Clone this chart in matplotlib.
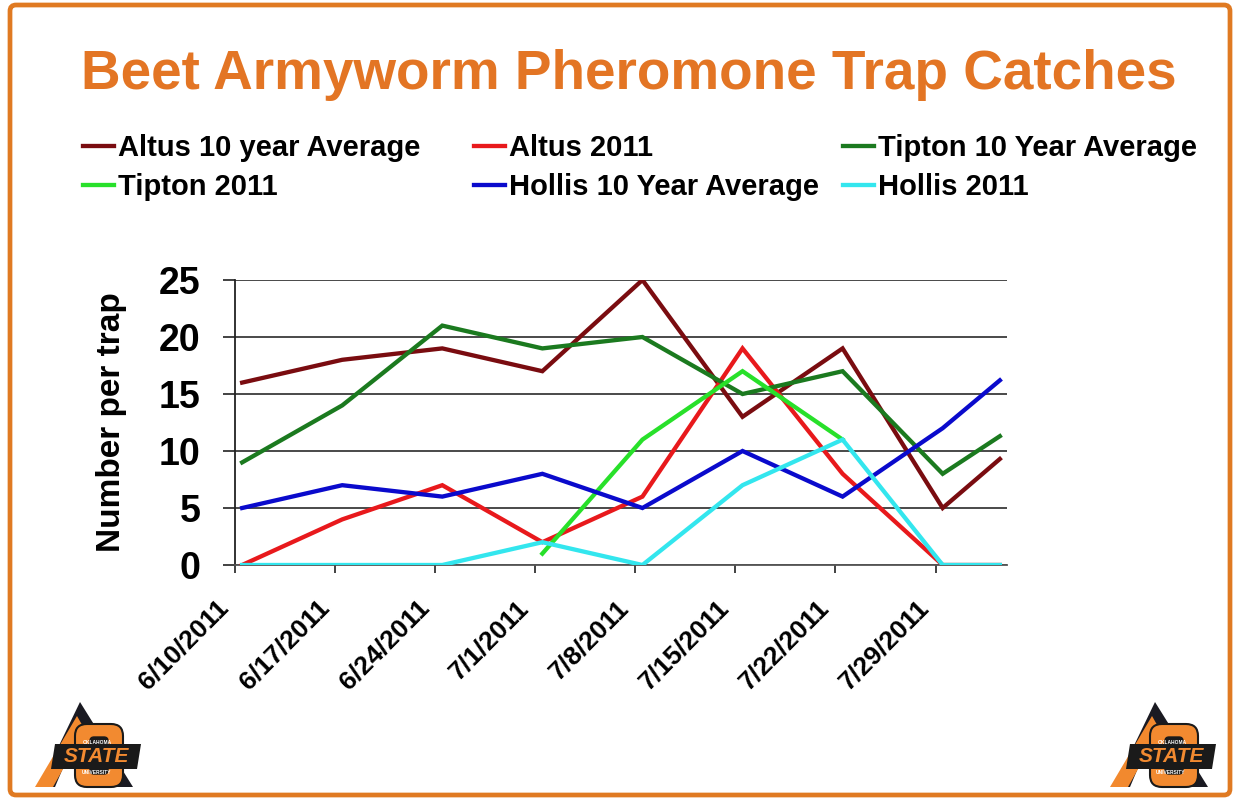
import matplotlib
matplotlib.use("Agg")
import matplotlib.pyplot as plt
from matplotlib.patches import Polygon, FancyBboxPatch
from matplotlib.transforms import ScaledTranslation
import pandas as pd

# ---------------- data ----------------
dates = ["6/10/2011", "6/17/2011", "6/24/2011", "7/1/2011", "7/8/2011",
         "7/15/2011", "7/22/2011", "7/29/2011", "8/2/2011"]
tick_dates = ["6/10/2011", "6/17/2011", "6/24/2011", "7/1/2011", "7/8/2011",
              "7/15/2011", "7/22/2011", "7/29/2011"]
tick_labels = ["6/10/2011", "6/17/2011", "6/24/2011", "7/1/2011", "7/8/2011",
               "7/15/2011", "7/22/2011", "7/29/2011"]
x_start = "6/10/2011"
x_end = "8/3/2011"

altus_avg = [16, 18, 19, 17, 25, 13, 19, 5, 9.3]
altus_2011 = [0, 4, 7, 2, 6, 19, 8, 0, 0]
tipton_avg = [9, 14, 21, 19, 20, 15, 17, 8, 11.3]
tipton_2011 = [None, None, None, 1, 11, 17, 11, None, None]
hollis_avg = [5, 7, 6, 8, 5, 10, 6, 12, 16.2]
hollis_2011 = [0, 0, 0, 2, 0, 7, 11, 0, 0]

series_names = ["Altus 10 year Average", "Altus 2011", "Tipton 10 Year Average",
                "Tipton 2011", "Hollis 10 Year Average", "Hollis 2011"]
series_values = [altus_avg, altus_2011, tipton_avg, tipton_2011, hollis_avg, hollis_2011]
series_colors = ["#7a0c10", "#e8191c", "#1b7a1f", "#28e02a", "#0a0acc", "#33e6ee"]

yticks = [0, 5, 10, 15, 20, 25]
ylabel = "Number per trap"
title = "Beet Armyworm Pheromone Trap Catches"

ORANGE = "#e37524"
FONT = "Liberation Sans"

# ---------------- figure ----------------
W, H = 1233, 799
fig = plt.figure(figsize=(W / 100, H / 100), dpi=100, facecolor="white")

ax = fig.add_axes([235 / W, 1 - 565 / H, (1007 - 235) / W, (565 - 280) / H])

xs = pd.to_datetime(dates, format="%m/%d/%Y") + pd.Timedelta(hours=12)
handles = []
for name, vals, col in zip(series_names, series_values, series_colors):
    y = pd.Series(vals, dtype="float")
    ln, = ax.plot(xs, y, color=col, lw=3.1, solid_joinstyle="miter", label=name, zorder=3)
    handles.append(ln)

ax.set_xlim(pd.to_datetime(x_start, format="%m/%d/%Y"), pd.to_datetime(x_end, format="%m/%d/%Y"))
ax.set_ylim(0, 25)
ax.set_yticks(yticks)
ax.set_yticklabels([str(v) for v in yticks], fontsize=27, fontweight="bold", family=FONT)

tick_pos = pd.to_datetime(tick_dates, format="%m/%d/%Y")
ax.set_xticks(tick_pos)
ax.set_xticklabels([])
# rotated date labels, anchored just below/left of each tick
lbl_tr = ax.get_xaxis_transform() + ScaledTranslation(-10 / 100, -39 / 100, fig.dpi_scale_trans)
for tp, lab in zip(tick_pos, tick_labels):
    ax.text(tp, 0, lab, transform=lbl_tr, rotation=45, ha="right", va="center",
            rotation_mode="anchor", fontsize=19, fontweight="bold", family=FONT, clip_on=False)

ax.grid(axis="y", color="#3a3a3a", lw=1.3, zorder=1)
for s in ["top", "right"]:
    ax.spines[s].set_visible(False)
ax.spines["left"].set_color("#222222")
ax.spines["left"].set_linewidth(1.3)
ax.spines["bottom"].set_color("#555555")
ax.spines["bottom"].set_linewidth(1.3)
ax.tick_params(axis="y", length=9, width=1.3, color="#333333", pad=16)
ax.tick_params(axis="x", length=6, width=1.3, color="#333333")
ax.set_ylabel(ylabel, fontsize=24, fontweight="bold", family=FONT, labelpad=23)

# ---------------- title ----------------
fig.text(629 / W, 1 - 75 / H, title, ha="center", va="center", fontsize=39.5,
         fontweight="bold", color=ORANGE, family=FONT)

# ---------------- legend (three columns, row-major order) ----------------
col_x = [83, 474, 843]
cols = [[0, 3], [1, 4], [2, 5]]
for cx, idx in zip(col_x, cols):
    fig.legend([handles[i] for i in idx], [series_names[i] for i in idx],
               loc="upper left", bbox_to_anchor=(cx / W, 1 - 134 / H),
               frameon=False, borderpad=0, borderaxespad=0,
               handlelength=1.05, handletextpad=0.15, labelspacing=0.37,
               prop={"family": FONT, "weight": "bold", "size": 21})

# ---------------- decoration: border + logos ----------------
deco = fig.add_axes([0, 0, 1, 1], zorder=10)
deco.set_xlim(0, W)
deco.set_ylim(H, 0)
deco.axis("off")
deco.patch.set_alpha(0)
deco.add_patch(FancyBboxPatch((10, 5), W - 13, H - 9, boxstyle="round,pad=0,rounding_size=6",
                              fill=False, ec="#e07a22", lw=3.4))


def logo(ox):
    # ox = left edge of logo in pixels
    def P(pts, **kw):
        deco.add_patch(Polygon([(ox + a, b) for a, b in pts], closed=True, **kw))
    P([(47, 702), (100, 787), (6, 787)], fc="#1a1a22", ec="none")
    P([(47, 728), (84, 787), (22, 787)], fc="white", ec="none")
    P([(2, 787), (20, 787), (52, 730), (44, 716)], fc="#f2892e", ec="none")
    deco.add_patch(FancyBboxPatch((ox + 42, 724), 48, 63, boxstyle="round,pad=0,rounding_size=12",
                                  fc="#f28a30", ec="#1a1a1a", lw=1.5))
    deco.add_patch(FancyBboxPatch((ox + 57, 737), 18, 37, boxstyle="round,pad=0,rounding_size=4",
                                  fc="#1a1a1a", ec="#1a1a1a", lw=1))
    P([(22, 744), (108, 744), (104, 769), (18, 769)], fc="#1a1a1a", ec="none")
    deco.text(ox + 63, 757, "STATE", ha="center", va="center", fontsize=15, fontweight="bold",
              style="italic", color="#f28a30", family=FONT)
    deco.text(ox + 64, 742, "OKLAHOMA", ha="center", va="center", fontsize=3.5,
              fontweight="bold", color="white", family=FONT)
    deco.text(ox + 63, 772, "UNIVERSITY", ha="center", va="center", fontsize=3.5,
              fontweight="bold", color="white", family=FONT)


logo(33)
logo(1108)

fig.savefig("out.png", dpi=100, facecolor="white")
